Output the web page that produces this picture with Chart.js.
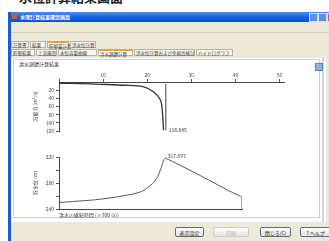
<!DOCTYPE html>
<html><head><meta charset="utf-8">
<script src="https://cdn.jsdelivr.net/npm/chart.js@4/dist/chart.umd.min.js"></script>
<style>
html,body{margin:0;padding:0;width:329px;height:241px;overflow:hidden;background:#fff;font-family:"Noto Sans CJK JP",sans-serif;}
.a{position:absolute;white-space:nowrap;}
#heading{left:6px;top:-13px;font-size:13px;font-weight:bold;color:#222;}
#win{left:8px;top:12px;width:330px;height:240px;background:#ece9d8;border-left:3px solid #1c5ad8;}
#tbar{left:0;top:0;width:321px;height:10px;background:linear-gradient(#4a90f0,#1560dc 55%,#0d4cc8);}
#ttext{left:9px;top:1px;font-size:5px;color:#fff;font-weight:bold;}
#ticon{left:1px;top:2px;width:5px;height:5px;background:#d8542a;}
.wb{top:1px;width:7px;height:7px;background:#5e8fe6;border:1px solid #cfe0ff;}
.tab{height:7px;font-size:4.5px;line-height:7px;color:#333;border:1px solid #b8b5a6;background:#f4f3ec;padding:0 1px;box-sizing:border-box;}
.tab.on{background:#fff;border-top:2px solid #f0a030;line-height:6px;}
#panel{left:11px;top:58px;width:315px;height:164px;background:#fff;}
#frame{left:13px;top:59px;width:307px;height:159px;border:1px solid #cfcfcf;box-sizing:border-box;}
#ptitle{left:19px;top:60px;font-size:5px;color:#333;}
.btn{height:10px;font-size:5px;line-height:10px;text-align:center;border:1px solid #5a6a90;border-radius:2px;background:linear-gradient(#fff,#e6e4dc);color:#222;box-sizing:border-box;}
canvas{position:absolute;}
</style></head>
<body>
<div id="heading" class="a">・水位計算結果画面</div>
<div id="win" class="a">
  <div id="tbar" class="a"><div id="ticon" class="a"></div><div id="ttext" class="a">水理計算結果確認画面</div>
    <div class="a wb" style="left:298px"></div><div class="a wb" style="left:307px"></div><div class="a wb" style="left:316px;background:#e05a30"></div>
  </div>
  <div class="a" style="left:0;top:20px;width:321px;height:1px;background:#d6d2c0"></div>
</div>
<div class="a tab" style="left:11px;top:41px;width:18px">計算書</div>
<div class="a tab" style="left:30px;top:41px;width:16px">結果</div>
<div class="a tab on" style="left:47px;top:41px;width:22px">貯留量計算</div>
<div class="a tab" style="left:70px;top:41px;width:26px">洪水位計算</div>
<div class="a tab" style="left:11px;top:49px;width:24px">貯留結果</div>
<div class="a tab" style="left:36px;top:49px;width:21px">上流施設</div>
<div class="a tab" style="left:58px;top:49px;width:39px">水位容量曲線</div>
<div class="a tab on" style="left:98px;top:49px;width:35px">洪水調節計算</div>
<div class="a tab" style="left:134px;top:49px;width:61px">洪水位計算および余裕高検討</div>
<div class="a tab" style="left:196px;top:49px;width:37px">ハイドログラフ</div>
<div id="panel" class="a"></div>
<div id="frame" class="a"></div>
<div class="a" style="left:322px;top:58px;width:2px;height:164px;background:#c9d6ee"></div>
<div class="a" style="left:315px;top:63px;width:6px;height:6px;background:#8fb0e0;border:1px solid #5a7fc0"></div>
<div id="ptitle" class="a">洪水調節計算結果</div>
<div class="a btn" style="left:175px;top:227px;width:29px">表示設定</div>
<div class="a btn" style="left:213px;top:227px;width:36px;color:#bbb;border-color:#ccc">印刷</div>
<div class="a btn" style="left:260px;top:227px;width:31px">閉じる(C)</div>
<div class="a btn" style="left:300px;top:227px;width:31px">? ヘルプ</div>
<canvas id="c1" width="300" height="80" style="left:0;top:60px;width:300px;height:80px"></canvas>
<canvas id="c2" width="300" height="80" style="left:0;top:145px;width:300px;height:80px"></canvas>
<script>
// Top chart: flow (reversed axis)
const flowX = [0, 5, 9.3, 15, 19, 21.4, 23, 23.4, 23.6, 23.7];
const flowY = [3, 4, 5.6, 8, 11.5, 24, 44, 69, 100, 118];
const flowMarkX = [24.2, 24.2];
const flowMarkY = [5, 118];
const flowLabel = '118.845';
const flowTicksX = [10, 20, 30, 40, 50];
const flowTicksY = [20, 40, 60, 80, 100, 120];
// Bottom chart: water level
const levelX = [0, 9.3, 18.4, 21.4, 22.5, 23.2, 23.7, 24.3, 39.6, 41.7, 41.7];
const levelY = [250, 255, 265.7, 279.5, 290, 302, 312, 318, 265, 257.4, 240];
const levelLabel = '317.897';
const levelTicksY = [240, 280, 320];

const fontFamily = '"Noto Sans CJK JP", sans-serif';
Chart.defaults.font.family = fontFamily;
Chart.defaults.font.size = 5;
Chart.defaults.color = '#444';
const small = () => ({family: fontFamily, size: 5});

const makeLabelPlugin = () => ({
  id: 'lbl',
  afterDatasetsDraw(chart, args, opts) {
    const {ctx, scales} = chart;
    ctx.save();
    ctx.font = '5px ' + fontFamily;
    ctx.fillStyle = '#333';
    ctx.textBaseline = 'middle';
    ctx.fillText(opts.text, scales.x.getPixelForValue(opts.x) + opts.dx, scales.y.getPixelForValue(opts.y) + opts.dy);
    ctx.restore();
  }
});

new Chart(document.getElementById('c1'), {
  type: 'scatter',
  data: {datasets: [
    {data: flowX.map((x, i) => ({x, y: flowY[i]})), showLine: true, borderColor: '#333', borderWidth: 1.3, pointRadius: 0, tension: 0.3},
    {data: flowMarkX.map((x, i) => ({x, y: flowMarkY[i]})), showLine: true, borderColor: '#777', borderWidth: 0.8, pointRadius: 0}
  ]},
  options: {
    responsive: false, animation: false, events: [],
    layout: {padding: {left: 30, right: 16, top: 0, bottom: 9}},
    plugins: {legend: {display: false}, tooltip: {enabled: false},
      lbl: {text: flowLabel, x: 24.2, y: 118, dx: 3, dy: 0}},
    scales: {
      x: {type: 'linear', position: 'top', min: 0, max: 51,
        afterFit: s => { s.height = 22; },
        afterBuildTicks: s => { s.ticks = [0].concat(flowTicksX).map(v => ({value: v})); },
        ticks: {padding: 1, maxRotation: 0, autoSkip: false,
          callback: v => flowTicksX.includes(v) ? String(v) : ''},
        grid: {drawOnChartArea: false, tickLength: 3, color: '#555'},
        border: {color: '#444'}},
      y: {type: 'linear', reverse: true, min: 0, max: 120,
        afterFit: s => { s.width = 29; },
        afterBuildTicks: s => { s.ticks = flowTicksY.map(v => ({value: v})); },
        ticks: {padding: 2},
        grid: {drawOnChartArea: false, tickLength: 3, color: '#555'},
        border: {color: '#444'},
        title: {display: true, text: '流量 Q (m³/s)', font: small(), color: '#444', padding: 2}}
    }
  },
  plugins: [makeLabelPlugin()]
});

new Chart(document.getElementById('c2'), {
  type: 'scatter',
  data: {datasets: [
    {data: levelX.map((x, i) => ({x, y: levelY[i]})), showLine: true, borderColor: '#555', borderWidth: 1, pointRadius: 0, tension: 0.25}
  ]},
  options: {
    responsive: false, animation: false, events: [],
    layout: {padding: {left: 30, right: 58, top: 12, bottom: 6}},
    plugins: {legend: {display: false}, tooltip: {enabled: false},
      lbl: {text: levelLabel, x: 24.3, y: 318, dx: 2, dy: -2}},
    scales: {
      x: {type: 'linear', min: 0, max: 41.7,
        afterFit: s => { s.height = 10; },
        ticks: {display: false},
        grid: {display: false},
        border: {color: '#444'},
        title: {display: true, text: '洪水の継続時間 (×300 (s))', align: 'start', font: small(), color: '#444', padding: 1}},
      y: {type: 'linear', min: 240, max: 320,
        afterFit: s => { s.width = 29; },
        ticks: {stepSize: 20, padding: 2, callback: v => levelTicksY.includes(v) ? v : ''},
        grid: {drawOnChartArea: false, tickLength: 3, color: '#555'},
        border: {color: '#444'},
        title: {display: true, text: '貯水位 (m)', font: small(), color: '#444', padding: 2}}
    }
  },
  plugins: [makeLabelPlugin()]
});
</script>
</body></html>
